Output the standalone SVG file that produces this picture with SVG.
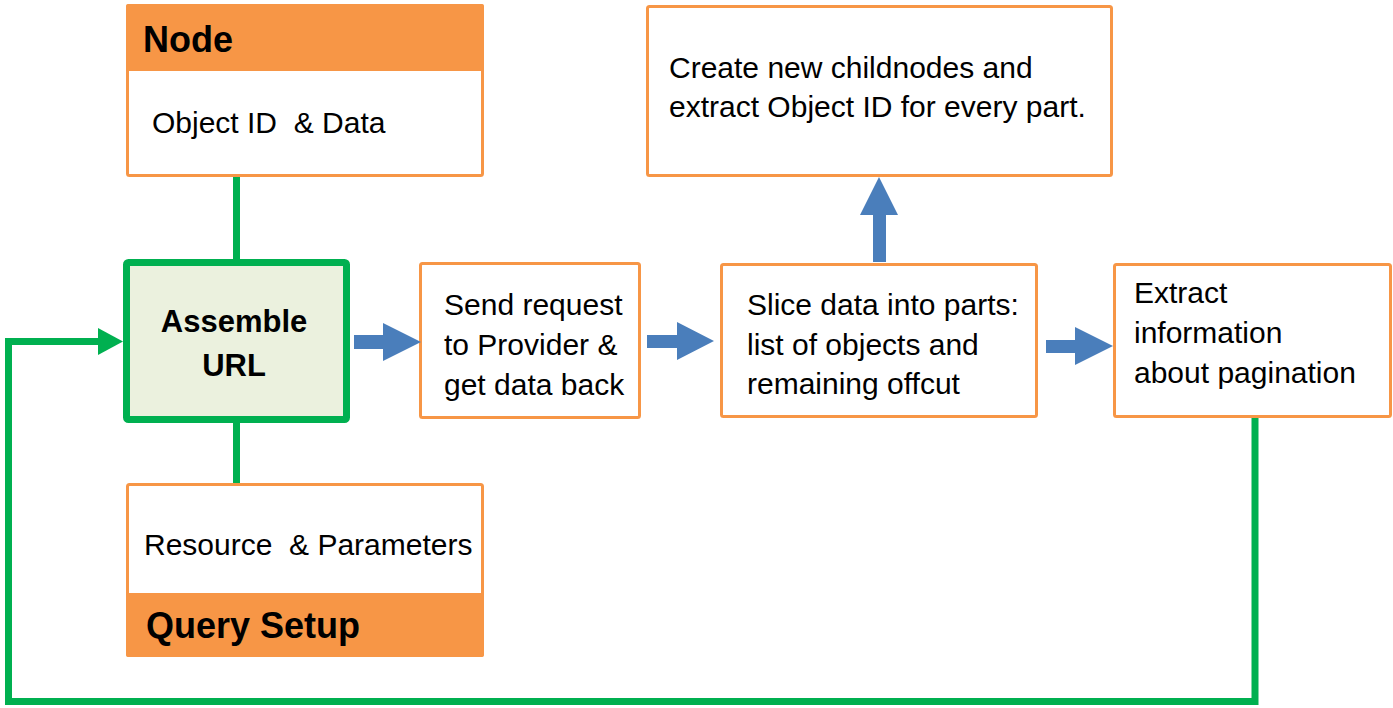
<svg xmlns="http://www.w3.org/2000/svg" width="1393" height="708" viewBox="0 0 1393 708">
<style>
.box{fill:#fff;stroke:#F79646;stroke-width:3}
.hdr{fill:#F79646}
.t{font-family:"Liberation Sans",Arial,sans-serif;font-size:30px;fill:#000}
.h{font-family:"Liberation Sans",Arial,sans-serif;font-size:36px;font-weight:bold;fill:#000}
.b{font-family:"Liberation Sans",Arial,sans-serif;font-size:31px;font-weight:bold;fill:#000}
.g{fill:none;stroke:#00B050;stroke-width:7}
.blue{fill:#4A7EBB}
</style>
<rect width="1393" height="708" fill="#fff"/>
<g id="node">
<rect class="box" x="127.5" y="5.5" width="355" height="170" rx="2"/>
<rect class="hdr" x="126" y="4" width="358" height="67" rx="2"/>
<text class="h" x="143" y="52">Node</text>
<text class="t" x="152" y="133" xml:space="preserve">Object ID  &amp; Data</text>
</g>
<g id="query">
<rect class="box" x="127.5" y="484.5" width="355" height="171" rx="2"/>
<rect class="hdr" x="126" y="593" width="358" height="64" rx="2"/>
<text class="t" x="144" y="555" xml:space="preserve">Resource  &amp; Parameters</text>
<text class="h" x="146" y="638">Query Setup</text>
</g>
<g id="assemble">
<rect x="126.5" y="262.5" width="220" height="157" rx="2" fill="#EBF1DE" stroke="#00B050" stroke-width="7"/>
<text class="b" x="234" y="332" text-anchor="middle">Assemble</text>
<text class="b" x="234" y="376" text-anchor="middle">URL</text>
</g>
<g id="send">
<rect class="box" x="420.5" y="263.5" width="219" height="154" rx="2"/>
<text class="t" x="444" y="315">Send request</text>
<text class="t" x="444" y="355">to Provider &amp;</text>
<text class="t" x="444" y="395">get data back</text>
</g>
<g id="slice">
<rect class="box" x="721.5" y="264.5" width="315" height="152" rx="2"/>
<text class="t" x="747" y="315">Slice data into parts:</text>
<text class="t" x="747" y="355">list of objects and</text>
<text class="t" x="747" y="394">remaining offcut</text>
</g>
<g id="create">
<rect class="box" x="647.5" y="6.5" width="464" height="169" rx="2"/>
<text class="t" x="669" y="78">Create new childnodes and</text>
<text class="t" x="669" y="117">extract Object ID for every part.</text>
</g>
<g id="extract">
<rect class="box" x="1114.5" y="264.5" width="276" height="152" rx="2"/>
<text class="t" x="1134" y="303">Extract</text>
<text class="t" x="1134" y="343">information</text>
<text class="t" x="1134" y="383">about pagination</text>
</g>
<g id="connectors">
<line class="g" x1="236.5" y1="177" x2="236.5" y2="259"/>
<line class="g" x1="236.5" y1="423" x2="236.5" y2="483"/>
<polyline class="g" points="1255,418 1255,701.5 8.5,701.5 8.5,341.5 100,341.5"/>
<polygon fill="#00B050" points="98,328 123,341.5 98,355"/>
<polygon class="blue" points="354,335 383,335 383,323 421,342 383,361 383,349 354,349"/>
<polygon class="blue" points="647,335 677,335 677,322 714,341 677,360 677,348 647,348"/>
<polygon class="blue" points="1046,340 1075,340 1075,327 1113,346 1075,365 1075,353 1046,353"/>
<polygon class="blue" points="873,262 873,215 860,215 879,177 898,215 886,215 886,262"/>
</g>
</svg>
